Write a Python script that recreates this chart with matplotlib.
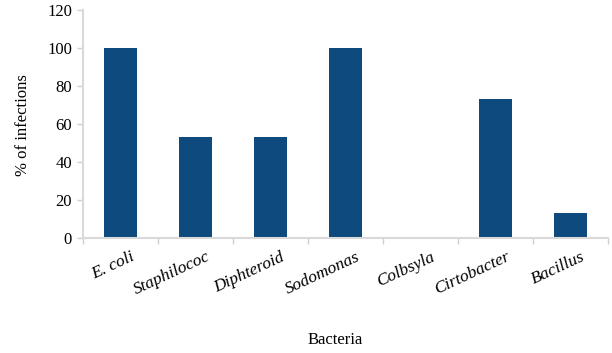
import matplotlib
matplotlib.use("Agg")
import matplotlib.pyplot as plt
import matplotlib.transforms as mtransforms

categories = ["E. coli", "Staphilococ", "Diphteroid", "Sodomonas", "Colbsyla", "Cirtobacter", "Bacillus"]
values = [100, 53.3, 53.3, 100, 0, 73.3, 13.3]
yticks = [0, 20, 40, 60, 80, 100, 120]

serif = ["Liberation Serif", "DejaVu Serif"]

fig = plt.figure(figsize=(6.12, 3.53), dpi=100)
ax = fig.add_axes([83/612, 115/353, 525/612, 228/353])

x = list(range(len(categories)))
ax.bar(x, values, width=0.43, color="#0e4a7e", zorder=2)

ax.set_xlim(-0.5, len(categories) - 0.5)
ax.set_ylim(0, 120)
ax.set_yticks(yticks)
ax.set_yticklabels([str(t) for t in yticks], fontfamily=serif, fontsize=12)

ax.set_xticks([i - 0.5 for i in range(len(categories) + 1)])
ax.set_xticklabels([])
ax.tick_params(axis="x", length=4, color="#d0d0d0", width=1, direction="out")
ax.tick_params(axis="y", length=4, color="#d0d0d0", width=1, direction="out", pad=4)

for s in ["top", "right"]:
    ax.spines[s].set_visible(False)
for s in ["left", "bottom"]:
    ax.spines[s].set_color("#d9d9d9")
    ax.spines[s].set_linewidth(1.5)

offset = mtransforms.ScaledTranslation(10/100, -11/100, fig.dpi_scale_trans)
for i, c in enumerate(categories):
    ax.text(i, 0, c, transform=mtransforms.blended_transform_factory(ax.transData, ax.transAxes) + offset,
            rotation=25, ha="right", va="top", rotation_mode="anchor",
            fontfamily=serif, fontstyle="italic", fontsize=12.5)

fig.text(335/612, 1 - 340/353, "Bacteria", ha="center", va="center", fontfamily=serif, fontsize=12)
fig.text(23/612, 1 - 125/353, "% of infections", ha="center", va="center", rotation=90,
         fontfamily=serif, fontsize=12)

fig.savefig("out.png", dpi=100)
